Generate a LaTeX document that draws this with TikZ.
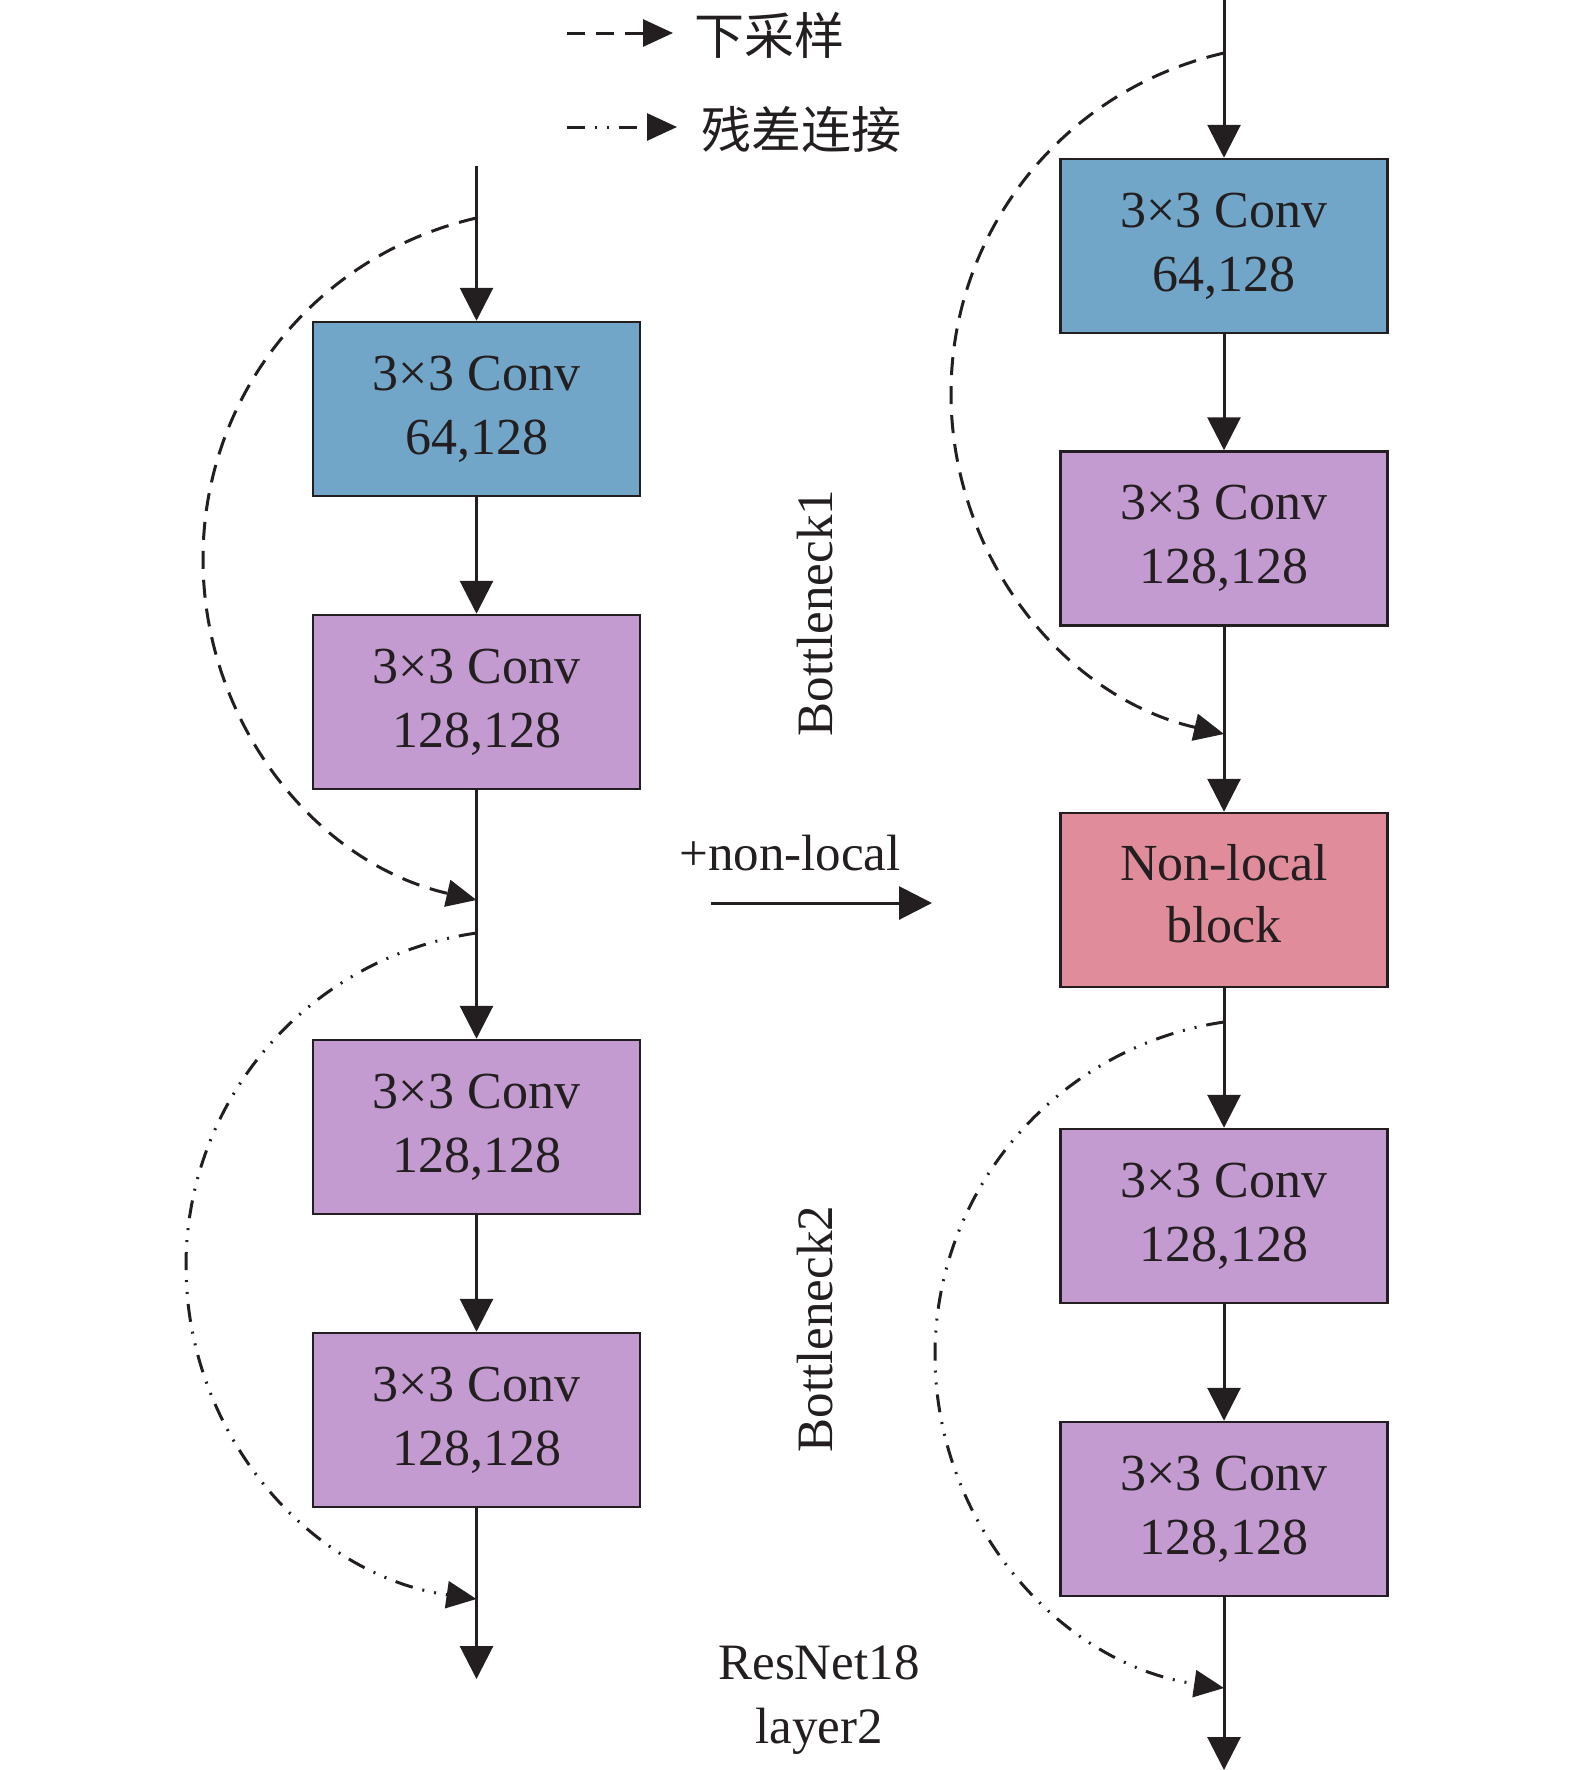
\documentclass[tikz,border=0pt]{standalone}
\usepackage{fontspec}
\setmainfont{Liberation Serif}
\newfontfamily\cjk{Noto Sans CJK SC}
\usetikzlibrary{arrows.meta}
\definecolor{convblue}{RGB}{113,166,201}
\definecolor{convpurple}{RGB}{196,155,208}
\definecolor{nlpink}{RGB}{225,140,154}
\definecolor{ink}{RGB}{35,31,32}
\begin{document}
\begin{tikzpicture}[x=1pt,y=-1pt,
  box/.style={draw=ink, line width=2.5pt, minimum width=327pt, minimum height=174pt, inner sep=0pt, align=center, text=ink, font=\fontsize{52}{64}\selectfont},
  flow/.style={draw=ink, line width=3pt, -{Triangle[length=33pt,width=33pt]}},
  down/.style={draw=ink, line width=3pt, dash pattern=on 18pt off 11pt, -{Triangle[length=30pt,width=27pt]}},
  skip/.style={draw=ink, line width=3pt, dash pattern=on 18pt off 10pt on 2pt off 10pt on 2pt off 10pt, -{Triangle[length=30pt,width=27pt]}},
  lbl/.style={font=\fontsize{51}{64}\selectfont, align=center, text=ink, inner sep=0pt},
  cjklbl/.style={font=\cjk\fontsize{50}{54}\selectfont, text=ink, inner sep=0pt, anchor=west}]
\useasboundingbox (0,0) rectangle (1575,1770);

% legend
\coordinate (lg1a) at (567,33);
\coordinate (lg1b) at (673,33);
\coordinate (lg2a) at (567,127);
\coordinate (lg2b) at (677,127);
\draw[down] (lg1a) -- (lg1b);
\draw[skip] (lg2a) -- (lg2b);
\node[cjklbl] (lgt1) at (694,35) {下采样};
\node[cjklbl] (lgt2) at (701,129) {残差连接};

% left column
\node[box, fill=convblue]   (L1) at (476.5,409)  {3×3 Conv\\64,128};
\node[box, fill=convpurple] (L2) at (476.5,702)  {3×3 Conv\\128,128};
\node[box, fill=convpurple] (L3) at (476.5,1127) {3×3 Conv\\128,128};
\node[box, fill=convpurple] (L4) at (476.5,1420) {3×3 Conv\\128,128};
\coordinate (Lin) at (476.5,166);
\coordinate (Lout) at (476.5,1679);
\draw[flow] (Lin) -- (L1.north);
\draw[flow] (L1.south) -- (L2.north);
\draw[flow] (L2.south) -- (L3.north);
\draw[flow] (L3.south) -- (L4.north);
\draw[flow] (L4.south) -- (Lout);

\coordinate (Ld1) at (476.5,218);
\coordinate (Ld2) at (476.5,900);
\coordinate (Ls1) at (476.5,933);
\coordinate (Ls2) at (476.5,1599);
\draw[down] (Ld1) .. controls (315,255) and (203,396) .. (203,559)
                  .. controls (203,722) and (315,863) .. (Ld2);
\draw[skip] (Ls1) .. controls (309,957) and (186,1099) .. (186,1266)
                  .. controls (186,1433) and (309,1575) .. (Ls2);

% right column
\node[box, fill=convblue]   (R1) at (1224,246)   {3×3 Conv\\64,128};
\node[box, fill=convpurple] (R2) at (1224,538.5) {3×3 Conv\\128,128};
\node[box, fill=nlpink, font=\fontsize{52}{62}\selectfont] (NL) at (1224,900) {Non-local\\block\rule[-14pt]{0pt}{1pt}};
\node[box, fill=convpurple] (R3) at (1224,1216)  {3×3 Conv\\128,128};
\node[box, fill=convpurple] (R4) at (1224,1509)  {3×3 Conv\\128,128};
\coordinate (Rin) at (1224,0);
\coordinate (Rout) at (1224,1770);
\draw[flow] (Rin) -- (R1.north);
\draw[flow] (R1.south) -- (R2.north);
\draw[flow] (R2.south) -- (NL.north);
\draw[flow] (NL.south) -- (R3.north);
\draw[flow] (R3.south) -- (R4.north);
\draw[flow] (R4.south) -- (Rout);

\coordinate (Rd1) at (1224,53);
\coordinate (Rd2) at (1224,734);
\coordinate (Rs1) at (1224,1022);
\coordinate (Rs2) at (1224,1688);
\draw[down] (Rd1) .. controls (1063,90) and (951,231) .. (951,393.5)
                  .. controls (951,556) and (1063,697) .. (Rd2);
\draw[skip] (Rs1) .. controls (1059,1046) and (935,1188) .. (935,1355)
                  .. controls (935,1522) and (1059,1664) .. (Rs2);

% middle labels
\node[lbl, rotate=90] (bn1) at (815,613) {Bottleneck1};
\node[lbl, rotate=90] (bn2) at (815,1329) {Bottleneck2};
\node[lbl] (nltxt) at (790,853) {+non-local};
\coordinate (ha) at (711,903);
\coordinate (hb) at (932,903);
\draw[flow] (ha) -- (hb);
\node[lbl] (res) at (819,1700) {ResNet18\\layer2};
\end{tikzpicture}
\end{document}
